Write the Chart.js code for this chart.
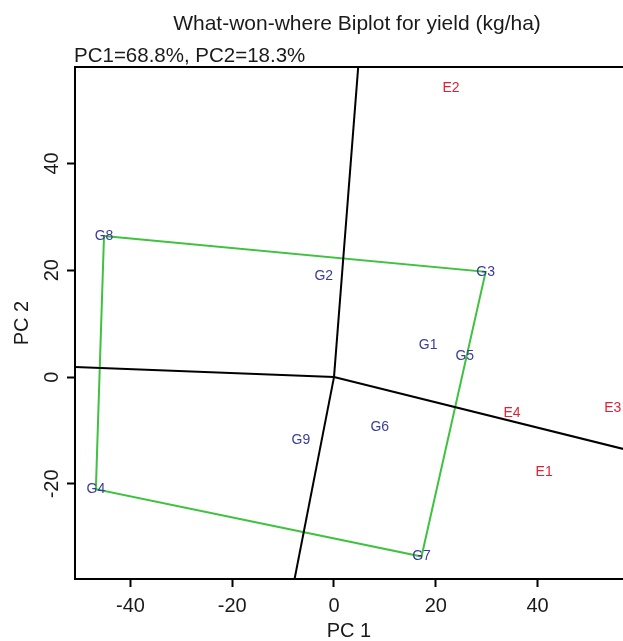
<!DOCTYPE html>
<html>
<head>
<meta charset="utf-8">
<script src="https://cdn.jsdelivr.net/npm/chart.js@4.4.0/dist/chart.umd.min.js"></script>
<style>
  html, body { margin: 0; padding: 0; background: #fff; overflow: hidden; }
  #wrap { width: 623px; height: 641px; position: relative; }
</style>
</head>
<body>
<div id="wrap"><canvas id="biplot"></canvas></div>
<script>
// Genotipos (etiquetas azules)
const genotypes = ['G1', 'G2', 'G3', 'G4', 'G5', 'G6', 'G7', 'G8', 'G9'];
const genoPC1 = [18.5, -2.0, 29.8, -46.8, 25.7, 9.0, 17.2, -45.2, -6.5];
const genoPC2 = [6.0, 18.9, 19.7, -21.0, 3.9, -9.4, -33.6, 26.4, -11.8];

// Ambientes (etiquetas rojas)
const environments = ['E1', 'E2', 'E3', 'E4'];
const envPC1 = [41.3, 23.0, 54.8, 35.0];
const envPC2 = [-17.8, 54.1, -5.8, -6.7];

// Vértices del polígono (orden de recorrido)
const hullOrder = ['G8', 'G3', 'G7', 'G4', 'G8'];

// Extremos de los rayos que salen del origen
const rayEndPC1 = [5.0, 60.0, -8.2, -53.0];
const rayEndPC2 = [61.0, -14.2, -40.0, 1.95];

// Marcas de los ejes
const xTicks = [-40, -20, 0, 20, 40];
const yTicks = [-20, 0, 20, 40];

const FONT = '"Liberation Sans", Arial, Helvetica, sans-serif';

const hullPoints = hullOrder.map(g => {
    const i = genotypes.indexOf(g);
    return { x: genoPC1[i], y: genoPC2[i] };
});

const rayDatasets = rayEndPC1.map((x, i) => ({
    label: 'ray' + (i + 1),
    data: [{ x: 0, y: 0 }, { x: x, y: rayEndPC2[i] }],
    showLine: true,
    borderColor: '#000',
    borderWidth: 2,
    pointRadius: 0,
}));

const datasets = [
    ...rayDatasets,
    {
        label: 'hull',
        data: hullPoints,
        showLine: true,
        borderColor: '#3fc23f',
        borderWidth: 2,
        pointRadius: 0,
    },
    {
        label: 'genotypes',
        data: genoPC1.map((x, i) => ({ x: x, y: genoPC2[i] })),
        names: genotypes,
        textColor: '#3b3b9e',
        pointRadius: 0,
    },
    {
        label: 'environments',
        data: envPC1.map((x, i) => ({ x: x, y: envPC2[i] })),
        names: environments,
        textColor: '#dc2238',
        pointRadius: 0,
    }
];

// Plugin: etiquetas de puntos, borde superior y títulos
const biplotText = {
    id: 'biplotText',
    afterDatasetsDraw(chart) {
        const { ctx } = chart;
        const xs = chart.scales.x, ys = chart.scales.y;
        ctx.save();
        ctx.font = '14px ' + FONT;
        ctx.textAlign = 'center';
        ctx.textBaseline = 'middle';
        chart.data.datasets.forEach(ds => {
            if (!ds.names) return;
            ctx.fillStyle = ds.textColor;
            ds.data.forEach((p, i) => {
                ctx.fillText(ds.names[i], xs.getPixelForValue(p.x), ys.getPixelForValue(p.y));
            });
        });
        ctx.restore();
    },
    afterDraw(chart) {
        const { ctx, chartArea } = chart;
        ctx.save();
        ctx.strokeStyle = '#000';
        ctx.lineWidth = 2;
        ctx.beginPath();
        ctx.moveTo(chartArea.left - 1, chartArea.top);
        ctx.lineTo(chartArea.right, chartArea.top);
        ctx.stroke();
        ctx.fillStyle = '#1a1a1a';
        ctx.textBaseline = 'alphabetic';
        ctx.textAlign = 'center';
        ctx.font = '21px ' + FONT;
        ctx.fillText('What-won-where Biplot for yield (kg/ha)', 357, 30);
        ctx.textAlign = 'left';
        ctx.font = '20.5px ' + FONT;
        ctx.fillText('PC1=68.8%, PC2=18.3%', 74, 62);
        ctx.restore();
    }
};

const config = {
    type: 'scatter',
    data: { datasets: datasets },
    options: {
        responsive: true,
        maintainAspectRatio: false,
        animation: false,
        layout: { padding: { top: 67, right: 0, left: 0, bottom: 0 } },
        plugins: {
            legend: { display: false },
            tooltip: { enabled: false }
        },
        scales: {
            x: {
                type: 'linear',
                min: -50.9,
                max: 56.8,
                afterBuildTicks: s => { s.ticks = xTicks.map(v => ({ value: v })); },
                afterFit: s => { s.height = 62; },
                grid: { drawOnChartArea: false, drawTicks: true, tickLength: 8, tickWidth: 2, tickColor: '#000' },
                border: { display: true, color: '#000', width: 2 },
                ticks: { color: '#1a1a1a', padding: 7, maxRotation: 0, font: { family: FONT, size: 20 } },
                title: { display: true, text: 'PC 1', color: '#1a1a1a', padding: 0, font: { family: FONT, size: 20, lineHeight: 1 } }
            },
            y: {
                type: 'linear',
                min: -37.8,
                max: 58.05,
                afterBuildTicks: s => { s.ticks = yTicks.map(v => ({ value: v })); },
                afterFit: s => { s.width = 75; },
                grid: { drawOnChartArea: false, drawTicks: true, tickLength: 8, tickWidth: 2, tickColor: '#000' },
                border: { display: true, color: '#000', width: 2 },
                ticks: { color: '#1a1a1a', padding: 0, minRotation: 90, maxRotation: 90, crossAlign: 'center', font: { family: FONT, size: 20 } },
                title: { display: true, text: 'PC 2', color: '#1a1a1a', padding: { top: 10 }, font: { family: FONT, size: 20 } }
            }
        }
    },
    plugins: [biplotText]
};

const ctx = document.getElementById('biplot').getContext('2d');
const biplot = new Chart(ctx, config);
</script>
</body>
</html>
